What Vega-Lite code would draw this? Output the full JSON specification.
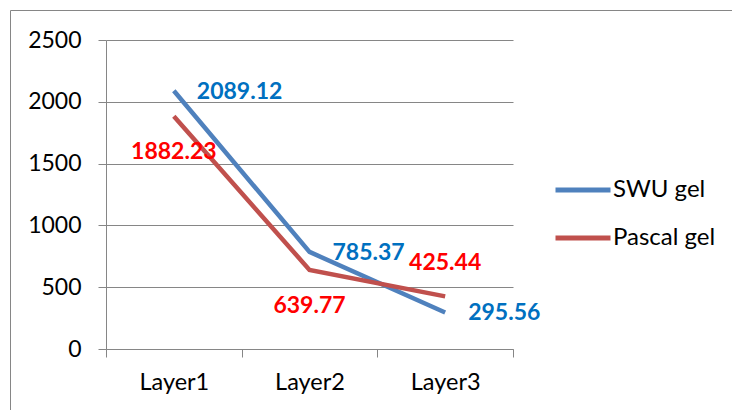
{
  "$schema": "https://vega.github.io/schema/vega-lite/v6.json",
  "width": 722,
  "height": 400,
  "autosize": {"type": "none"},
  "padding": {"left": 10, "top": 10, "right": 0, "bottom": 0},
  "background": "white",
  "config": {
    "font": "Lato",
    "view": {"stroke": "#868686", "strokeWidth": 1, "strokeDash": [722, 1122, 400, 0]}
  },
  "data": {
    "values": [
      {"layer": "Layer1", "series": "SWU gel", "value": 2089.12},
      {"layer": "Layer2", "series": "SWU gel", "value": 785.37},
      {"layer": "Layer3", "series": "SWU gel", "value": 295.56},
      {"layer": "Layer1", "series": "Pascal gel", "value": 1882.23},
      {"layer": "Layer2", "series": "Pascal gel", "value": 639.77},
      {"layer": "Layer3", "series": "Pascal gel", "value": 425.44}
    ]
  },
  "encoding": {
    "x": {
      "field": "layer",
      "type": "nominal",
      "scale": {"type": "band", "range": [96, 503], "paddingInner": 0, "paddingOuter": 0},
      "axis": {
        "title": null,
        "offset": -61,
        "labelAngle": 0,
        "tickBand": "extent",
        "tickSize": 8,
        "tickColor": "#868686",
        "domainColor": "#868686",
        "labelFont": "Lato",
        "labelFontSize": 23.5,
        "labelColor": "black",
        "labelPadding": 13,
        "grid": false
      }
    },
    "y": {
      "field": "value",
      "type": "quantitative",
      "scale": {"domain": [0, 2500], "range": [339, 30], "nice": false},
      "axis": {
        "title": null,
        "offset": -96,
        "values": [0, 500, 1000, 1500, 2000, 2500],
        "format": "d",
        "grid": true,
        "gridColor": "#868686",
        "gridWidth": 1,
        "domainColor": "#868686",
        "tickColor": "#868686",
        "tickSize": 8,
        "labelFont": "Lato",
        "labelFontSize": 23,
        "labelColor": "black",
        "labelPadding": 17
      }
    }
  },
  "layer": [
    {
      "mark": {"type": "line", "strokeWidth": 4.5},
      "encoding": {
        "color": {
          "field": "series",
          "type": "nominal",
          "scale": {"domain": ["SWU gel", "Pascal gel"], "range": ["#4F81BD", "#C0504D"]},
          "legend": {
            "title": null,
            "orient": "none",
            "legendX": 543,
            "legendY": 150,
            "symbolType": "stroke",
            "symbolSize": 3025,
            "symbolStrokeWidth": 5,
            "labelFont": "Lato",
            "labelFontSize": 24,
            "labelColor": "black",
            "labelOffset": 0,
            "rowPadding": 6,
            "padding": 0
          }
        }
      }
    },
    {
      "transform": [{"filter": "datum.series === 'SWU gel'"}],
      "mark": {"type": "text", "align": "left", "baseline": "middle", "dx": 23, "dy": 1, "font": "Lato", "fontSize": 23, "fontWeight": "bold", "color": "#0070C0"},
      "encoding": {"text": {"field": "value", "type": "quantitative", "format": ".2f"}}
    },
    {
      "transform": [{"filter": "datum.series === 'Pascal gel' && datum.layer !== 'Layer3'"}],
      "mark": {"type": "text", "align": "center", "baseline": "middle", "dy": 36, "font": "Lato", "fontSize": 23, "fontWeight": "bold", "color": "#FF0000"},
      "encoding": {"text": {"field": "value", "type": "quantitative", "format": ".2f"}}
    },
    {
      "transform": [{"filter": "datum.series === 'Pascal gel' && datum.layer === 'Layer3'"}],
      "mark": {"type": "text", "align": "center", "baseline": "middle", "dy": -33, "font": "Lato", "fontSize": 23, "fontWeight": "bold", "color": "#FF0000"},
      "encoding": {"text": {"field": "value", "type": "quantitative", "format": ".2f"}}
    }
  ]
}
